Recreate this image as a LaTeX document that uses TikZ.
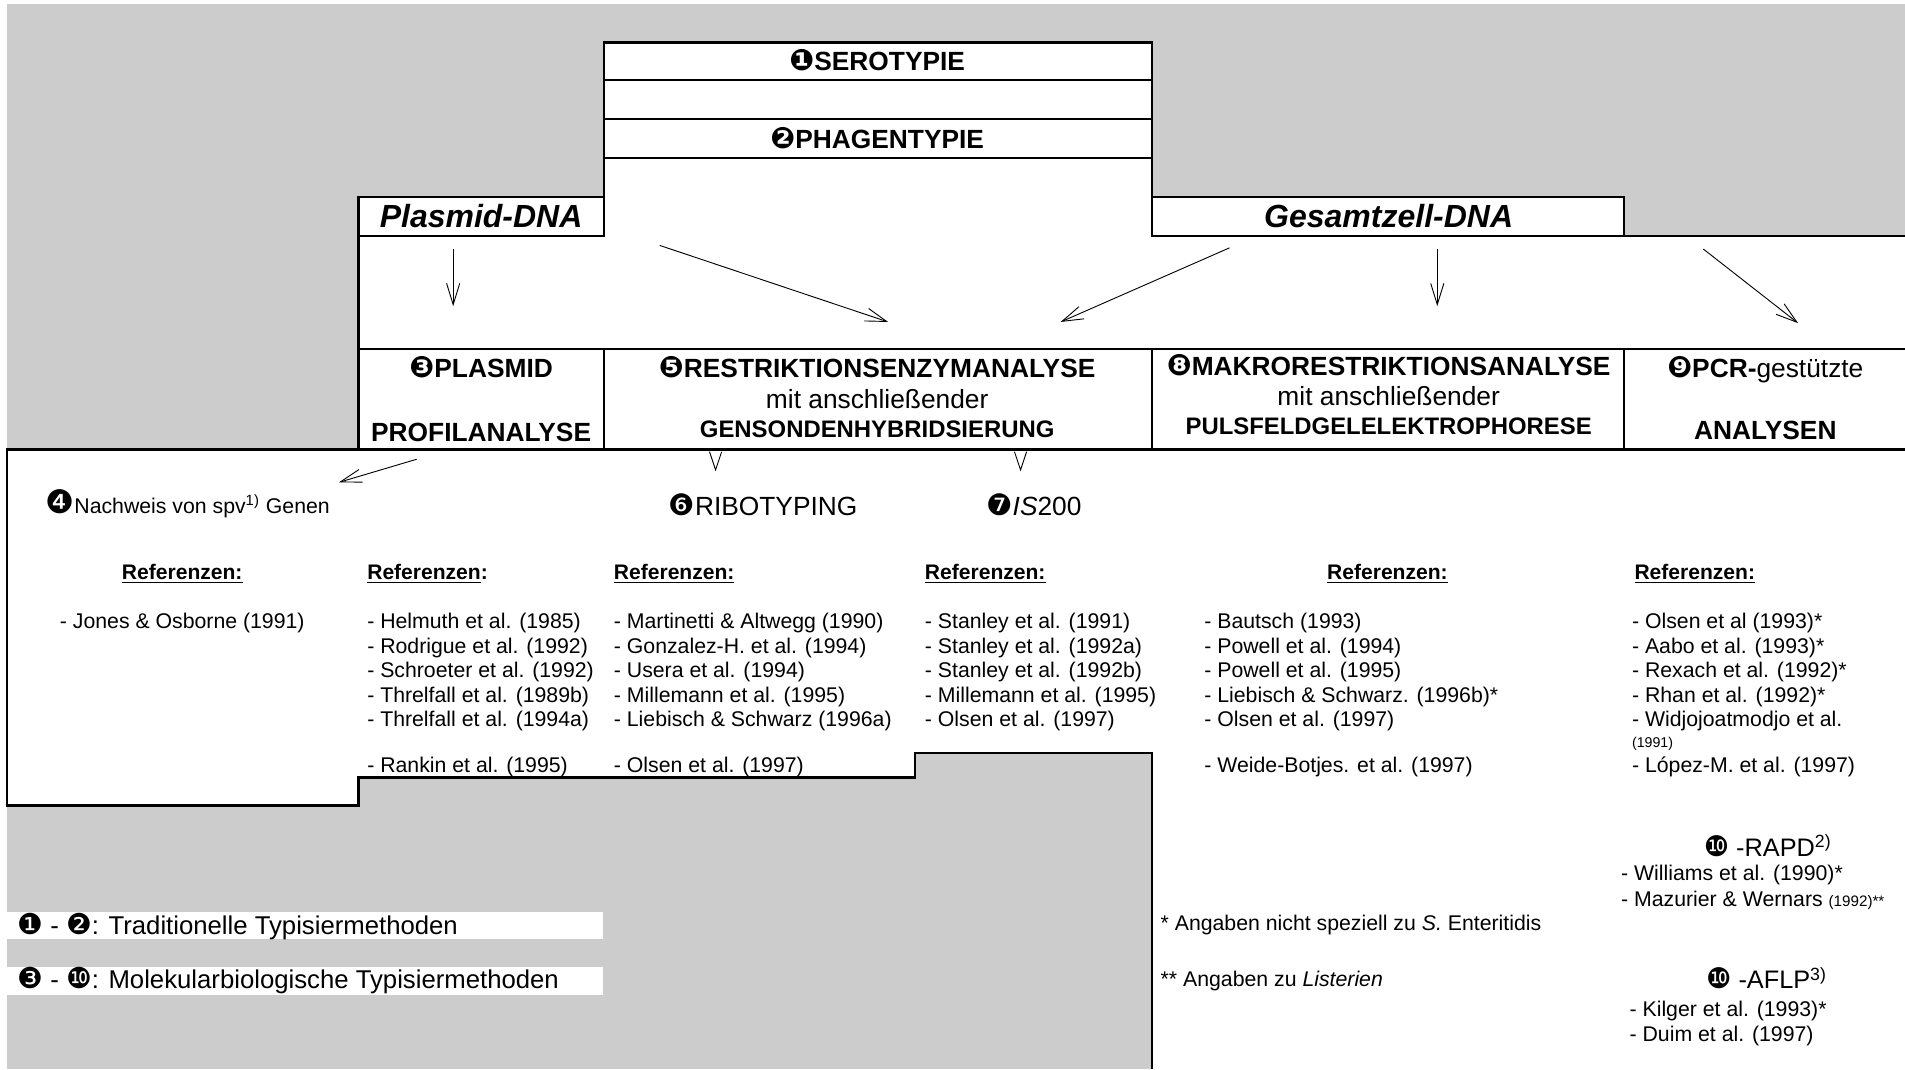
\documentclass[tikz,border=0pt]{standalone}
\usepackage{fontspec}
\setmainfont{Liberation Sans}
\newfontfamily\dingfont{DejaVu Sans}
\usetikzlibrary{arrows.meta}
\definecolor{bggray}{RGB}{204,204,204}
\newcommand{\cnum}[1]{{\dingfont\scalebox{1.12}{#1}}}

\begin{document}
\begin{tikzpicture}[x=0.6pt,y=-0.6pt,
    box/.style={line width=1.1pt},
    arr/.style={-{Straight Barb[length=10.5pt,width=6.5pt]},line width=0.45pt},
    head/.style={anchor=base,inner sep=0pt,font=\bfseries\fontsize{13}{15}\selectfont},
    sub/.style={anchor=base,inner sep=0pt,font=\bfseries\fontsize{11.8}{14}\selectfont},
    mid/.style={anchor=base,inner sep=0pt,font=\fontsize{13}{15}\selectfont},
    dna/.style={anchor=base,inner sep=0pt,font=\bfseries\itshape\fontsize{15.8}{18}\selectfont},
    ref/.style={anchor=base west,inner sep=0pt,font=\fontsize{10.5}{12}\selectfont},
    refhd/.style={anchor=base,inner sep=0pt,font=\bfseries\fontsize{10.4}{12}\selectfont},
    leg/.style={anchor=base west,inner sep=0pt,font=\fontsize{12.7}{15}\selectfont}]
    \useasboundingbox (0,0) rectangle (1568,880);
    \fill[white] (0,0) rectangle (1568,880);
    \fill[bggray] (6,3) rectangle (1568,880);
    \fill[white] (497,35) -- (948,35) -- (948,162) -- (1337,162) -- (1337,194) -- (1568,194)
        -- (1568,370) -- (295,370) -- (295,162) -- (497,162) -- cycle;
    \fill[white] (6,370) -- (1568,370) -- (1568,880) -- (948,880) -- (948,620) -- (753,620)
        -- (753,640) -- (295,640) -- (295,663) -- (6,663) -- cycle;
    \fill[white] (6,751) rectangle (496,773);
    \fill[white] (6,796) rectangle (496,819);
    \draw[box] (497,162) -- (497,35) -- (948,35) -- (948,162);
    \foreach \y in {66,98,130} \draw[box] (497,\y) -- (948,\y);
    \draw[box] (295,162) rectangle (497,194);
    \draw[box] (948,162) rectangle (1337,194);
    \draw[box] (1337,194) -- (1568,194);
    \draw[box] (295,194) -- (295,370);
    \draw[box] (295,287) -- (1568,287);
    \foreach \x in {497,948,1337} \draw[box] (\x,287) -- (\x,370);
    \draw[box] (1568,370) -- (6,370) -- (6,663) -- (295,663) -- (295,640) -- (753,640)
        -- (753,620) -- (948,620) -- (948,880);

    \node[head] (sero) at (722,58) {\cnum{❶}SEROTYPIE};
    \node[head] (phage) at (722,122) {\cnum{❷}PHAGENTYPIE};
    \node[dna] (pdna) at (396,187) {Plasmid-DNA};
    \node[dna] (gdna) at (1143,187) {Gesamtzell-DNA};
    \node[head] (plas) at (396,311) {\cnum{❸}PLASMID};
    \node[head] (profil) at (396,363) {PROFILANALYSE};
    \node[head] (restr) at (722,311) {\cnum{❺}RESTRIKTIONSENZYMANALYSE};
    \node[mid] (mit1) at (722,336) {mit anschließender};
    \node[sub] (gens) at (722,360) {GENSONDENHYBRIDSIERUNG};
    \node[head] (makro) at (1143,309) {\cnum{❽}MAKRORESTRIKTIONSANALYSE};
    \node[mid] (mit2) at (1143,334) {mit anschließender};
    \node[sub] (puls) at (1143,358) {PULSFELDGELELEKTROPHORESE};
    \node[head] (pcr) at (1453,311) {\cnum{❾}PCR-\mdseries gestützte};
    \node[head] (anal) at (1453,362) {ANALYSEN};

    \coordinate (p1) at (373,205); \coordinate (p2) at (373,252);
    \coordinate (p3) at (543,202); \coordinate (p4) at (731,265);
    \coordinate (g1) at (1012,204); \coordinate (g2) at (873,265);
    \coordinate (g3) at (1183,205); \coordinate (g4) at (1183,252);
    \coordinate (g5) at (1402,205); \coordinate (g6) at (1480,266);
    \coordinate (n1) at (343,378); \coordinate (n2) at (279,397);
    \coordinate (r1) at (589,386); \coordinate (r2) at (589,388);
    \coordinate (i1) at (840,386); \coordinate (i2) at (840,388);
    \draw[arr] (p1) -- (p2);
    \draw[arr] (p3) -- (p4);
    \draw[arr] (g1) -- (g2);
    \draw[arr] (g3) -- (g4);
    \draw[arr] (g5) -- (g6);
    \draw[arr] (n1) -- (n2);
    \draw[arr,{Straight Barb[length=9pt,width=6pt]}-] (r2) -- (r1);
    \draw[arr,{Straight Barb[length=9pt,width=6pt]}-] (i2) -- (i1);

    \node[ref] (spv) at (37,423) {{\dingfont\fontsize{16}{16}\selectfont ❹}Nachweis von spv\textsuperscript{1)} Genen};
    \node[mid] (ribo) at (628,424) {\cnum{❻}RIBOTYPING};
    \node[mid] (is200) at (851,424) {\cnum{❼}\textit{IS}200};

    \node[refhd] (h1) at (150,477) {\underline{Referenzen:}};
    \node[refhd,anchor=base west] (h2) at (302,477) {\underline{Referenzen}:};
    \node[refhd,anchor=base west] (h3) at (505,477) {\underline{Referenzen:}};
    \node[refhd,anchor=base west] (h4) at (761,477) {\underline{Referenzen:}};
    \node[refhd] (h5) at (1142,477) {\underline{Referenzen:}};
    \node[refhd,anchor=base west] (h6) at (1345,477) {\underline{Referenzen:}};

    \node[ref] (c1) at (49,517) {- Jones \& Osborne (1991)};
    \foreach \y/\t in {517/Helmuth et al. (1985),538/Rodrigue et al. (1992),558/Schroeter et al. (1992),
        578/Threlfall et al. (1989b),598/Threlfall et al. (1994a),636/Rankin et al. (1995)}
        \node[ref] (c2-\y) at (302,\y) {- \t};
    \foreach \y/\t in {517/Martinetti \& Altwegg (1990),538/Gonzalez-H. et al. (1994),558/Usera et al. (1994),
        578/Millemann et al. (1995),598/Liebisch \& Schwarz (1996a),636/Olsen et al. (1997)}
        \node[ref] (c3-\y) at (505,\y) {- \t};
    \foreach \y/\t in {517/Stanley et al. (1991),538/Stanley et al. (1992a),558/Stanley et al. (1992b),
        578/Millemann et al. (1995),598/Olsen et al. (1997)}
        \node[ref] (c4-\y) at (761,\y) {- \t};
    \foreach \y/\t in {517/Bautsch (1993),538/Powell et al. (1994),558/Powell et al. (1995),
        578/Liebisch \& Schwarz. (1996b)*,598/Olsen et al. (1997),636/Weide-Botjes. et al. (1997)}
        \node[ref] (c5-\y) at (991,\y) {- \t};
    \foreach \y/\t in {517/Olsen et al (1993)*,538/Aabo et al. (1993)*,558/Rexach et al. (1992)*,
        578/Rhan et al. (1992)*,598/Widjojoatmodjo et al.,636/López-M. et al. (1997)}
        \node[ref] (c6-\y) at (1343,\y) {- \t};
    \node[ref,font=\fontsize{7}{8}\selectfont] (c6-yr) at (1343,615) {(1991)};

    \node[mid,font=\fontsize{12.5}{15}\selectfont] (rapd) at (1455,705) {\cnum{❿} -RAPD\textsuperscript{2)}};
    \node[ref] (will) at (1334,725) {- Williams et al. (1990)*};
    \node[ref] (mazu) at (1334,746) {- Mazurier \& Wernars {\fontsize{7.5}{8}\selectfont (1992)**}};
    \node[mid,font=\fontsize{12.5}{15}\selectfont] (aflp) at (1454,814) {\cnum{❿} -AFLP\textsuperscript{3)}};
    \node[ref] (kilg) at (1341,837) {- Kilger et al. (1993)*};
    \node[ref] (duim) at (1341,857) {- Duim et al. (1997)};

    \node[ref] (fn1) at (955,766) {* Angaben nicht speziell zu \textit{S.} Enteritidis};
    \node[ref] (fn2) at (955,812) {** Angaben zu \textit{Listerien}};

    \node[leg] (leg1) at (14,769) {\cnum{❶} - \cnum{❷}: Traditionelle Typisiermethoden};
    \node[leg] (leg2) at (14,814) {\cnum{❸} - \cnum{❿}: Molekularbiologische Typisiermethoden};
\end{tikzpicture}
\end{document}
